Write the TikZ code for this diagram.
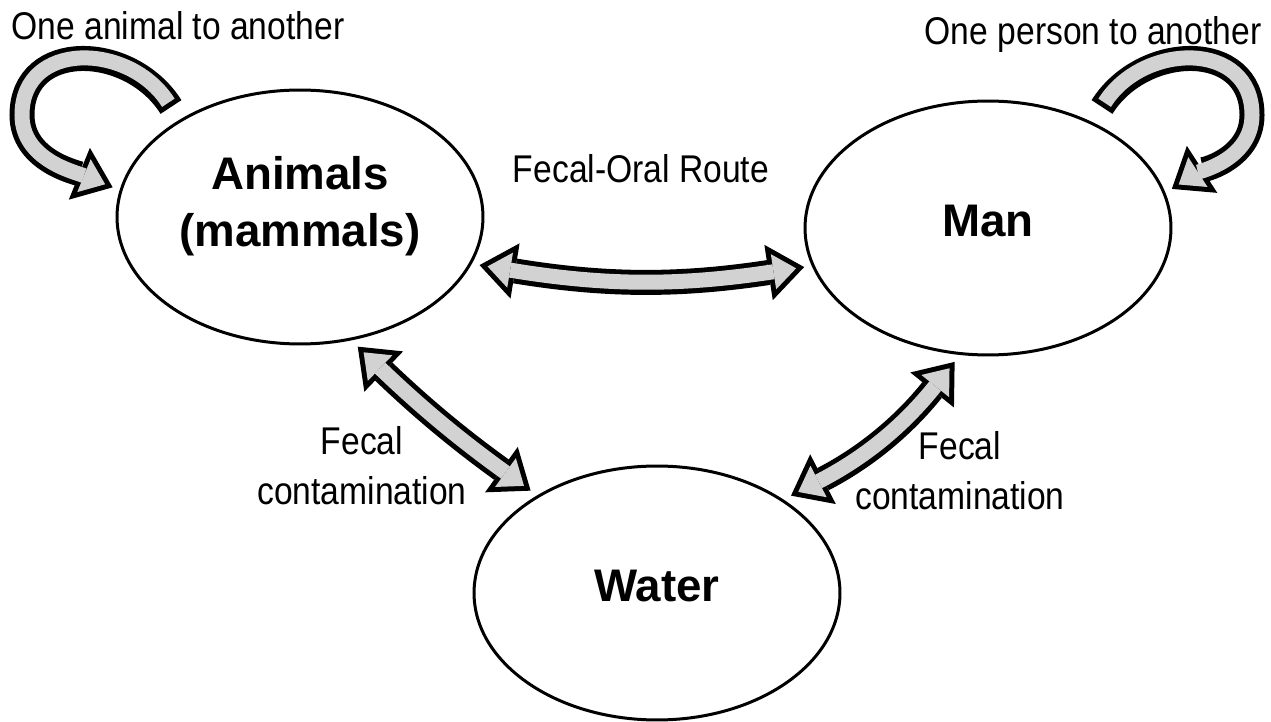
\documentclass[tikz,border=0pt]{standalone}
\usepackage{fontspec}
\setmainfont{Liberation Sans}
\newfontfamily\narrowsans[FakeStretch=0.87]{Liberation Sans}
\usetikzlibrary{shapes.geometric, arrows.meta}
\definecolor{stipple}{RGB}{210, 210, 210}

\begin{document}
\begin{tikzpicture}[
    x=0.02cm, y=-0.02cm,
    oval/.style={ellipse, draw, line width=0.06cm, minimum width=7.32cm, minimum height=5.08cm, inner sep=0pt, outer sep=0.18cm, align=center, text depth=0.3cm, font=\fontsize{26}{32.4}\selectfont\bfseries},
    note/.style={align=center, inner sep=0pt, font=\narrowsans\fontsize{22}{28.5}\selectfont},
    fatarrow/.style={draw=stipple, line width=0.30cm, shorten >=0.163cm, shorten <=0.1cm, -{Triangle[length=0.457cm, width=0.711cm, line width=0pt]},
        preaction={draw=black, line width=0.50cm, shorten >=0pt, shorten <=0pt, -{Triangle[length=0.72cm, width=1.12cm, line width=0pt]}}},
    fatboth/.style={draw=stipple, line width=0.30cm, shorten >=0.163cm, shorten <=0.163cm, {Triangle[length=0.457cm, width=0.711cm, line width=0pt]}-{Triangle[length=0.457cm, width=0.711cm, line width=0pt]},
        preaction={draw=black, line width=0.50cm, shorten >=0pt, shorten <=0pt, {Triangle[length=0.72cm, width=1.12cm, line width=0pt]}-{Triangle[length=0.72cm, width=1.12cm, line width=0pt]}}}
]
\useasboundingbox (0,0) rectangle (1271,722);

\node[oval, text depth=0.64cm] (animals) at (300,217) {Animals\\(mammals)};
\node[oval] (man) at (988,228) {Man};
\node[oval] (water) at (657,593) {Water};

\node[note, anchor=base] (animaltext) at (178,40) {One animal to another};
\node[note, anchor=base] (persontext) at (1093,45) {One person to another};
\node[note, anchor=base] (oralroute) at (641,183) {Fecal-Oral Route};
\node[note] (leftfecal) at (362,466) {Fecal\\contamination};
\node[note] (rightfecal) at (960,471) {Fecal\\contamination};

\coordinate (animaltail) at (171,107);
\coordinate (persontail) at (1102,107);

\draw[fatboth] (animals.-15) to[bend right=9] (man.-168);
\draw[fatboth] (animals.-66) to[bend right=4] (water.141);
\draw[fatboth] (man.-104) to[bend left=12] (water.36);
\draw[fatarrow] (animaltail) .. controls (130,42) and (22,40) .. (22,115) .. controls (22,160) and (75,172) .. (animals.171);
\draw[fatarrow] (persontail) .. controls (1143,42) and (1252,40) .. (1252,115) .. controls (1252,160) and (1198,172) .. (man.12);

\end{tikzpicture}
\end{document}
